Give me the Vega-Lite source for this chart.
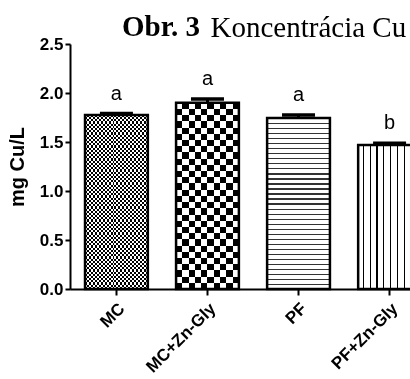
{
  "$schema": "https://vega.github.io/schema/vega-lite/v6.json",
  "width": 340,
  "height": 245,
  "autosize": {"type": "none"},
  "padding": {"left": 70, "top": 44, "right": 0, "bottom": 90},
  "background": "white",
  "config": {"view": {"stroke": null}},
  "title": {"text": "Obr. 3", "anchor": "start", "frame": "group", "dx": 52, "dy": 60, "offset": 8, "baseline": "alphabetic", "font": "Liberation Serif", "fontSize": 29, "fontWeight": "bold", "color": "black"},
  "data": {"values": [
    {"g": "MC", "v": 1.776, "u": 1.79, "l": "a"},
    {"g": "MC+Zn-Gly", "v": 1.90, "u": 1.94, "l": "a"},
    {"g": "PF", "v": 1.745, "u": 1.776, "l": "a"},
    {"g": "PF+Zn-Gly", "v": 1.469, "u": 1.487, "l": "b"}
  ]},
  "encoding": {
    "x": {"field": "g", "type": "nominal", "sort": null,
      "scale": {"type": "band", "range": [0, 366], "paddingInner": 0.31, "paddingOuter": 0.165},
      "axis": {"title": "Koncentrácia Cu", "titleX": 140, "titleY": -253, "titleAlign": "left", "titleBaseline": "alphabetic", "titleAngle": 0, "titleFont": "Liberation Serif", "titleFontSize": 29, "titleFontWeight": "normal", "titleColor": "black",
        "labelAngle": -45, "labelFont": "Liberation Sans", "labelFontSize": 17, "labelFontWeight": "bold", "labelColor": "black", "labelPadding": 5,
        "tickSize": 6, "tickWidth": 2, "tickColor": "black", "domainWidth": 2, "domainColor": "black", "grid": false}}
  },
  "layer": [
    {
      "mark": {"type": "bar", "strokeWidth": 0},
      "encoding": {
        "y": {"field": "v", "type": "quantitative",
          "scale": {"domain": [0, 2.5], "nice": false},
          "axis": {"title": "mg Cu/L", "titleFont": "Liberation Sans", "titleFontSize": 20, "titleFontWeight": "bold", "titleColor": "black", "titlePadding": 12,
            "values": [0, 0.5, 1, 1.5, 2, 2.5], "format": ".1f", "labelFont": "Liberation Sans", "labelFontSize": 17, "labelFontWeight": "bold", "labelColor": "black", "labelPadding": 2,
            "tickSize": 5, "tickWidth": 2, "tickColor": "black", "domainWidth": 2, "domainColor": "black", "grid": false}},
        "fill": {
          "condition": [
            {"test": "datum.g === 'MC'", "value": {"gradient": "linear", "x1": 0, "y1": 0, "x2": 1, "y2": 0, "stops": [
              {"offset": 0, "color": "#000"}, {"offset": 0.03125, "color": "#000"}, {"offset": 0.03125, "color": "#fff"}, {"offset": 0.0625, "color": "#fff"},
              {"offset": 0.0625, "color": "#000"}, {"offset": 0.09375, "color": "#000"}, {"offset": 0.09375, "color": "#fff"}, {"offset": 0.125, "color": "#fff"},
              {"offset": 0.125, "color": "#000"}, {"offset": 0.15625, "color": "#000"}, {"offset": 0.15625, "color": "#fff"}, {"offset": 0.1875, "color": "#fff"},
              {"offset": 0.1875, "color": "#000"}, {"offset": 0.21875, "color": "#000"}, {"offset": 0.21875, "color": "#fff"}, {"offset": 0.25, "color": "#fff"},
              {"offset": 0.25, "color": "#000"}, {"offset": 0.28125, "color": "#000"}, {"offset": 0.28125, "color": "#fff"}, {"offset": 0.3125, "color": "#fff"},
              {"offset": 0.3125, "color": "#000"}, {"offset": 0.34375, "color": "#000"}, {"offset": 0.34375, "color": "#fff"}, {"offset": 0.375, "color": "#fff"},
              {"offset": 0.375, "color": "#000"}, {"offset": 0.40625, "color": "#000"}, {"offset": 0.40625, "color": "#fff"}, {"offset": 0.4375, "color": "#fff"},
              {"offset": 0.4375, "color": "#000"}, {"offset": 0.46875, "color": "#000"}, {"offset": 0.46875, "color": "#fff"}, {"offset": 0.5, "color": "#fff"},
              {"offset": 0.5, "color": "#000"}, {"offset": 0.53125, "color": "#000"}, {"offset": 0.53125, "color": "#fff"}, {"offset": 0.5625, "color": "#fff"},
              {"offset": 0.5625, "color": "#000"}, {"offset": 0.59375, "color": "#000"}, {"offset": 0.59375, "color": "#fff"}, {"offset": 0.625, "color": "#fff"},
              {"offset": 0.625, "color": "#000"}, {"offset": 0.65625, "color": "#000"}, {"offset": 0.65625, "color": "#fff"}, {"offset": 0.6875, "color": "#fff"},
              {"offset": 0.6875, "color": "#000"}, {"offset": 0.71875, "color": "#000"}, {"offset": 0.71875, "color": "#fff"}, {"offset": 0.75, "color": "#fff"},
              {"offset": 0.75, "color": "#000"}, {"offset": 0.78125, "color": "#000"}, {"offset": 0.78125, "color": "#fff"}, {"offset": 0.8125, "color": "#fff"},
              {"offset": 0.8125, "color": "#000"}, {"offset": 0.84375, "color": "#000"}, {"offset": 0.84375, "color": "#fff"}, {"offset": 0.875, "color": "#fff"},
              {"offset": 0.875, "color": "#000"}, {"offset": 0.90625, "color": "#000"}, {"offset": 0.90625, "color": "#fff"}, {"offset": 0.9375, "color": "#fff"},
              {"offset": 0.9375, "color": "#000"}, {"offset": 0.96875, "color": "#000"}, {"offset": 0.96875, "color": "#fff"}, {"offset": 1, "color": "#fff"}
            ]}},
            {"test": "datum.g === 'MC+Zn-Gly'", "value": {"gradient": "linear", "x1": 0, "y1": 0, "x2": 1, "y2": 0, "stops": [
              {"offset": 0, "color": "#000"}, {"offset": 0.1, "color": "#000"}, {"offset": 0.1, "color": "#fff"}, {"offset": 0.2, "color": "#fff"},
              {"offset": 0.2, "color": "#000"}, {"offset": 0.3, "color": "#000"}, {"offset": 0.3, "color": "#fff"}, {"offset": 0.4, "color": "#fff"},
              {"offset": 0.4, "color": "#000"}, {"offset": 0.5, "color": "#000"}, {"offset": 0.5, "color": "#fff"}, {"offset": 0.6, "color": "#fff"},
              {"offset": 0.6, "color": "#000"}, {"offset": 0.7, "color": "#000"}, {"offset": 0.7, "color": "#fff"}, {"offset": 0.8, "color": "#fff"},
              {"offset": 0.8, "color": "#000"}, {"offset": 0.9, "color": "#000"}, {"offset": 0.9, "color": "#fff"}, {"offset": 1, "color": "#fff"}
            ]}},
            {"test": "datum.g === 'PF'", "value": {"gradient": "linear", "x1": 0, "y1": 0, "x2": 0, "y2": 1, "stops": [
              {"offset": 0, "color": "#fff"},
              {"offset": 0.0294, "color": "#fff"}, {"offset": 0.0294, "color": "#333"}, {"offset": 0.0364, "color": "#333"}, {"offset": 0.0364, "color": "#fff"},
              {"offset": 0.0588, "color": "#fff"}, {"offset": 0.0588, "color": "#333"}, {"offset": 0.0658, "color": "#333"}, {"offset": 0.0658, "color": "#fff"},
              {"offset": 0.0882, "color": "#fff"}, {"offset": 0.0882, "color": "#333"}, {"offset": 0.0952, "color": "#333"}, {"offset": 0.0952, "color": "#fff"},
              {"offset": 0.1176, "color": "#fff"}, {"offset": 0.1176, "color": "#333"}, {"offset": 0.1246, "color": "#333"}, {"offset": 0.1246, "color": "#fff"},
              {"offset": 0.1471, "color": "#fff"}, {"offset": 0.1471, "color": "#333"}, {"offset": 0.1541, "color": "#333"}, {"offset": 0.1541, "color": "#fff"},
              {"offset": 0.1765, "color": "#fff"}, {"offset": 0.1765, "color": "#333"}, {"offset": 0.1835, "color": "#333"}, {"offset": 0.1835, "color": "#fff"},
              {"offset": 0.2059, "color": "#fff"}, {"offset": 0.2059, "color": "#333"}, {"offset": 0.2129, "color": "#333"}, {"offset": 0.2129, "color": "#fff"},
              {"offset": 0.2353, "color": "#fff"}, {"offset": 0.2353, "color": "#333"}, {"offset": 0.2423, "color": "#333"}, {"offset": 0.2423, "color": "#fff"},
              {"offset": 0.2647, "color": "#fff"}, {"offset": 0.2647, "color": "#333"}, {"offset": 0.2717, "color": "#333"}, {"offset": 0.2717, "color": "#fff"},
              {"offset": 0.2941, "color": "#fff"}, {"offset": 0.2941, "color": "#333"}, {"offset": 0.3011, "color": "#333"}, {"offset": 0.3011, "color": "#fff"},
              {"offset": 0.3235, "color": "#fff"}, {"offset": 0.3235, "color": "#333"}, {"offset": 0.3305, "color": "#333"}, {"offset": 0.3305, "color": "#fff"},
              {"offset": 0.3529, "color": "#fff"}, {"offset": 0.3529, "color": "#333"}, {"offset": 0.3599, "color": "#333"}, {"offset": 0.3599, "color": "#fff"},
              {"offset": 0.3824, "color": "#fff"}, {"offset": 0.3824, "color": "#333"}, {"offset": 0.3894, "color": "#333"}, {"offset": 0.3894, "color": "#fff"},
              {"offset": 0.4118, "color": "#fff"}, {"offset": 0.4118, "color": "#333"}, {"offset": 0.4188, "color": "#333"}, {"offset": 0.4188, "color": "#fff"},
              {"offset": 0.4412, "color": "#fff"}, {"offset": 0.4412, "color": "#333"}, {"offset": 0.4482, "color": "#333"}, {"offset": 0.4482, "color": "#fff"},
              {"offset": 0.4706, "color": "#fff"}, {"offset": 0.4706, "color": "#333"}, {"offset": 0.4776, "color": "#333"}, {"offset": 0.4776, "color": "#fff"},
              {"offset": 0.5, "color": "#fff"}, {"offset": 0.5, "color": "#333"}, {"offset": 0.507, "color": "#333"}, {"offset": 0.507, "color": "#fff"},
              {"offset": 0.5294, "color": "#fff"}, {"offset": 0.5294, "color": "#333"}, {"offset": 0.5364, "color": "#333"}, {"offset": 0.5364, "color": "#fff"},
              {"offset": 0.5588, "color": "#fff"}, {"offset": 0.5588, "color": "#333"}, {"offset": 0.5658, "color": "#333"}, {"offset": 0.5658, "color": "#fff"},
              {"offset": 0.5882, "color": "#fff"}, {"offset": 0.5882, "color": "#333"}, {"offset": 0.5952, "color": "#333"}, {"offset": 0.5952, "color": "#fff"},
              {"offset": 0.6176, "color": "#fff"}, {"offset": 0.6176, "color": "#333"}, {"offset": 0.6246, "color": "#333"}, {"offset": 0.6246, "color": "#fff"},
              {"offset": 0.6471, "color": "#fff"}, {"offset": 0.6471, "color": "#333"}, {"offset": 0.6541, "color": "#333"}, {"offset": 0.6541, "color": "#fff"},
              {"offset": 0.6765, "color": "#fff"}, {"offset": 0.6765, "color": "#333"}, {"offset": 0.6835, "color": "#333"}, {"offset": 0.6835, "color": "#fff"},
              {"offset": 0.7059, "color": "#fff"}, {"offset": 0.7059, "color": "#333"}, {"offset": 0.7129, "color": "#333"}, {"offset": 0.7129, "color": "#fff"},
              {"offset": 0.7353, "color": "#fff"}, {"offset": 0.7353, "color": "#333"}, {"offset": 0.7423, "color": "#333"}, {"offset": 0.7423, "color": "#fff"},
              {"offset": 0.7647, "color": "#fff"}, {"offset": 0.7647, "color": "#333"}, {"offset": 0.7717, "color": "#333"}, {"offset": 0.7717, "color": "#fff"},
              {"offset": 0.7941, "color": "#fff"}, {"offset": 0.7941, "color": "#333"}, {"offset": 0.8011, "color": "#333"}, {"offset": 0.8011, "color": "#fff"},
              {"offset": 0.8235, "color": "#fff"}, {"offset": 0.8235, "color": "#333"}, {"offset": 0.8305, "color": "#333"}, {"offset": 0.8305, "color": "#fff"},
              {"offset": 0.8529, "color": "#fff"}, {"offset": 0.8529, "color": "#333"}, {"offset": 0.8599, "color": "#333"}, {"offset": 0.8599, "color": "#fff"},
              {"offset": 0.8824, "color": "#fff"}, {"offset": 0.8824, "color": "#333"}, {"offset": 0.8894, "color": "#333"}, {"offset": 0.8894, "color": "#fff"},
              {"offset": 0.9118, "color": "#fff"}, {"offset": 0.9118, "color": "#333"}, {"offset": 0.9188, "color": "#333"}, {"offset": 0.9188, "color": "#fff"},
              {"offset": 0.9412, "color": "#fff"}, {"offset": 0.9412, "color": "#333"}, {"offset": 0.9482, "color": "#333"}, {"offset": 0.9482, "color": "#fff"},
              {"offset": 0.9706, "color": "#fff"}, {"offset": 0.9706, "color": "#333"}, {"offset": 0.9776, "color": "#333"}, {"offset": 0.9776, "color": "#fff"},
              {"offset": 1, "color": "#fff"}
            ]}}
          ],
          "value": {"gradient": "linear", "x1": 0, "y1": 0, "x2": 1, "y2": 0, "stops": [
            {"offset": 0, "color": "#fff"},
            {"offset": 0.075, "color": "#fff"}, {"offset": 0.075, "color": "#000"}, {"offset": 0.095, "color": "#000"}, {"offset": 0.095, "color": "#fff"},
            {"offset": 0.183, "color": "#fff"}, {"offset": 0.183, "color": "#000"}, {"offset": 0.203, "color": "#000"}, {"offset": 0.203, "color": "#fff"},
            {"offset": 0.291, "color": "#fff"}, {"offset": 0.291, "color": "#000"}, {"offset": 0.311, "color": "#000"}, {"offset": 0.311, "color": "#fff"},
            {"offset": 0.399, "color": "#fff"}, {"offset": 0.399, "color": "#000"}, {"offset": 0.419, "color": "#000"}, {"offset": 0.419, "color": "#fff"},
            {"offset": 0.507, "color": "#fff"}, {"offset": 0.507, "color": "#000"}, {"offset": 0.527, "color": "#000"}, {"offset": 0.527, "color": "#fff"},
            {"offset": 0.615, "color": "#fff"}, {"offset": 0.615, "color": "#000"}, {"offset": 0.635, "color": "#000"}, {"offset": 0.635, "color": "#fff"},
            {"offset": 0.723, "color": "#fff"}, {"offset": 0.723, "color": "#000"}, {"offset": 0.743, "color": "#000"}, {"offset": 0.743, "color": "#fff"},
            {"offset": 0.831, "color": "#fff"}, {"offset": 0.831, "color": "#000"}, {"offset": 0.851, "color": "#000"}, {"offset": 0.851, "color": "#fff"},
            {"offset": 0.939, "color": "#fff"}, {"offset": 0.939, "color": "#000"}, {"offset": 0.959, "color": "#000"}, {"offset": 0.959, "color": "#fff"},
            {"offset": 1, "color": "#fff"}
          ]}
        }
      }
    },
    {
      "transform": [{"filter": "datum.g === 'MC' || datum.g === 'MC+Zn-Gly'"}],
      "mark": {"type": "bar", "strokeWidth": 0, "blend": "difference"},
      "encoding": {
        "y": {"field": "v", "type": "quantitative"},
        "fill": {
          "condition": [
            {"test": "datum.g === 'MC'", "value": {"gradient": "linear", "x1": 0, "y1": 0, "x2": 0, "y2": 1, "stops": [
              {"offset": 0, "color": "#fff"},
              {"offset": 0.0125, "color": "#fff"}, {"offset": 0.0125, "color": "#000"}, {"offset": 0.025, "color": "#000"}, {"offset": 0.025, "color": "#fff"},
              {"offset": 0.0375, "color": "#fff"}, {"offset": 0.0375, "color": "#000"}, {"offset": 0.05, "color": "#000"}, {"offset": 0.05, "color": "#fff"},
              {"offset": 0.0625, "color": "#fff"}, {"offset": 0.0625, "color": "#000"}, {"offset": 0.075, "color": "#000"}, {"offset": 0.075, "color": "#fff"},
              {"offset": 0.0875, "color": "#fff"}, {"offset": 0.0875, "color": "#000"}, {"offset": 0.1, "color": "#000"}, {"offset": 0.1, "color": "#fff"},
              {"offset": 0.1125, "color": "#fff"}, {"offset": 0.1125, "color": "#000"}, {"offset": 0.125, "color": "#000"}, {"offset": 0.125, "color": "#fff"},
              {"offset": 0.1375, "color": "#fff"}, {"offset": 0.1375, "color": "#000"}, {"offset": 0.15, "color": "#000"}, {"offset": 0.15, "color": "#fff"},
              {"offset": 0.1625, "color": "#fff"}, {"offset": 0.1625, "color": "#000"}, {"offset": 0.175, "color": "#000"}, {"offset": 0.175, "color": "#fff"},
              {"offset": 0.1875, "color": "#fff"}, {"offset": 0.1875, "color": "#000"}, {"offset": 0.2, "color": "#000"}, {"offset": 0.2, "color": "#fff"},
              {"offset": 0.2125, "color": "#fff"}, {"offset": 0.2125, "color": "#000"}, {"offset": 0.225, "color": "#000"}, {"offset": 0.225, "color": "#fff"},
              {"offset": 0.2375, "color": "#fff"}, {"offset": 0.2375, "color": "#000"}, {"offset": 0.25, "color": "#000"}, {"offset": 0.25, "color": "#fff"},
              {"offset": 0.2625, "color": "#fff"}, {"offset": 0.2625, "color": "#000"}, {"offset": 0.275, "color": "#000"}, {"offset": 0.275, "color": "#fff"},
              {"offset": 0.2875, "color": "#fff"}, {"offset": 0.2875, "color": "#000"}, {"offset": 0.3, "color": "#000"}, {"offset": 0.3, "color": "#fff"},
              {"offset": 0.3125, "color": "#fff"}, {"offset": 0.3125, "color": "#000"}, {"offset": 0.325, "color": "#000"}, {"offset": 0.325, "color": "#fff"},
              {"offset": 0.3375, "color": "#fff"}, {"offset": 0.3375, "color": "#000"}, {"offset": 0.35, "color": "#000"}, {"offset": 0.35, "color": "#fff"},
              {"offset": 0.3625, "color": "#fff"}, {"offset": 0.3625, "color": "#000"}, {"offset": 0.375, "color": "#000"}, {"offset": 0.375, "color": "#fff"},
              {"offset": 0.3875, "color": "#fff"}, {"offset": 0.3875, "color": "#000"}, {"offset": 0.4, "color": "#000"}, {"offset": 0.4, "color": "#fff"},
              {"offset": 0.4125, "color": "#fff"}, {"offset": 0.4125, "color": "#000"}, {"offset": 0.425, "color": "#000"}, {"offset": 0.425, "color": "#fff"},
              {"offset": 0.4375, "color": "#fff"}, {"offset": 0.4375, "color": "#000"}, {"offset": 0.45, "color": "#000"}, {"offset": 0.45, "color": "#fff"},
              {"offset": 0.4625, "color": "#fff"}, {"offset": 0.4625, "color": "#000"}, {"offset": 0.475, "color": "#000"}, {"offset": 0.475, "color": "#fff"},
              {"offset": 0.4875, "color": "#fff"}, {"offset": 0.4875, "color": "#000"}, {"offset": 0.5, "color": "#000"}, {"offset": 0.5, "color": "#fff"},
              {"offset": 0.5125, "color": "#fff"}, {"offset": 0.5125, "color": "#000"}, {"offset": 0.525, "color": "#000"}, {"offset": 0.525, "color": "#fff"},
              {"offset": 0.5375, "color": "#fff"}, {"offset": 0.5375, "color": "#000"}, {"offset": 0.55, "color": "#000"}, {"offset": 0.55, "color": "#fff"},
              {"offset": 0.5625, "color": "#fff"}, {"offset": 0.5625, "color": "#000"}, {"offset": 0.575, "color": "#000"}, {"offset": 0.575, "color": "#fff"},
              {"offset": 0.5875, "color": "#fff"}, {"offset": 0.5875, "color": "#000"}, {"offset": 0.6, "color": "#000"}, {"offset": 0.6, "color": "#fff"},
              {"offset": 0.6125, "color": "#fff"}, {"offset": 0.6125, "color": "#000"}, {"offset": 0.625, "color": "#000"}, {"offset": 0.625, "color": "#fff"},
              {"offset": 0.6375, "color": "#fff"}, {"offset": 0.6375, "color": "#000"}, {"offset": 0.65, "color": "#000"}, {"offset": 0.65, "color": "#fff"},
              {"offset": 0.6625, "color": "#fff"}, {"offset": 0.6625, "color": "#000"}, {"offset": 0.675, "color": "#000"}, {"offset": 0.675, "color": "#fff"},
              {"offset": 0.6875, "color": "#fff"}, {"offset": 0.6875, "color": "#000"}, {"offset": 0.7, "color": "#000"}, {"offset": 0.7, "color": "#fff"},
              {"offset": 0.7125, "color": "#fff"}, {"offset": 0.7125, "color": "#000"}, {"offset": 0.725, "color": "#000"}, {"offset": 0.725, "color": "#fff"},
              {"offset": 0.7375, "color": "#fff"}, {"offset": 0.7375, "color": "#000"}, {"offset": 0.75, "color": "#000"}, {"offset": 0.75, "color": "#fff"},
              {"offset": 0.7625, "color": "#fff"}, {"offset": 0.7625, "color": "#000"}, {"offset": 0.775, "color": "#000"}, {"offset": 0.775, "color": "#fff"},
              {"offset": 0.7875, "color": "#fff"}, {"offset": 0.7875, "color": "#000"}, {"offset": 0.8, "color": "#000"}, {"offset": 0.8, "color": "#fff"},
              {"offset": 0.8125, "color": "#fff"}, {"offset": 0.8125, "color": "#000"}, {"offset": 0.825, "color": "#000"}, {"offset": 0.825, "color": "#fff"},
              {"offset": 0.8375, "color": "#fff"}, {"offset": 0.8375, "color": "#000"}, {"offset": 0.85, "color": "#000"}, {"offset": 0.85, "color": "#fff"},
              {"offset": 0.8625, "color": "#fff"}, {"offset": 0.8625, "color": "#000"}, {"offset": 0.875, "color": "#000"}, {"offset": 0.875, "color": "#fff"},
              {"offset": 0.8875, "color": "#fff"}, {"offset": 0.8875, "color": "#000"}, {"offset": 0.9, "color": "#000"}, {"offset": 0.9, "color": "#fff"},
              {"offset": 0.9125, "color": "#fff"}, {"offset": 0.9125, "color": "#000"}, {"offset": 0.925, "color": "#000"}, {"offset": 0.925, "color": "#fff"},
              {"offset": 0.9375, "color": "#fff"}, {"offset": 0.9375, "color": "#000"}, {"offset": 0.95, "color": "#000"}, {"offset": 0.95, "color": "#fff"},
              {"offset": 0.9625, "color": "#fff"}, {"offset": 0.9625, "color": "#000"}, {"offset": 0.975, "color": "#000"}, {"offset": 0.975, "color": "#fff"},
              {"offset": 0.9875, "color": "#fff"}, {"offset": 0.9875, "color": "#000"}, {"offset": 1, "color": "#000"}
            ]}}
          ],
          "value": {"gradient": "linear", "x1": 0, "y1": 0, "x2": 0, "y2": 1, "stops": [
            {"offset": 0, "color": "#fff"},
            {"offset": 0.0333, "color": "#fff"}, {"offset": 0.0333, "color": "#000"}, {"offset": 0.0667, "color": "#000"}, {"offset": 0.0667, "color": "#fff"},
            {"offset": 0.1, "color": "#fff"}, {"offset": 0.1, "color": "#000"}, {"offset": 0.1333, "color": "#000"}, {"offset": 0.1333, "color": "#fff"},
            {"offset": 0.1667, "color": "#fff"}, {"offset": 0.1667, "color": "#000"}, {"offset": 0.2, "color": "#000"}, {"offset": 0.2, "color": "#fff"},
            {"offset": 0.2333, "color": "#fff"}, {"offset": 0.2333, "color": "#000"}, {"offset": 0.2667, "color": "#000"}, {"offset": 0.2667, "color": "#fff"},
            {"offset": 0.3, "color": "#fff"}, {"offset": 0.3, "color": "#000"}, {"offset": 0.3333, "color": "#000"}, {"offset": 0.3333, "color": "#fff"},
            {"offset": 0.3667, "color": "#fff"}, {"offset": 0.3667, "color": "#000"}, {"offset": 0.4, "color": "#000"}, {"offset": 0.4, "color": "#fff"},
            {"offset": 0.4333, "color": "#fff"}, {"offset": 0.4333, "color": "#000"}, {"offset": 0.4667, "color": "#000"}, {"offset": 0.4667, "color": "#fff"},
            {"offset": 0.5, "color": "#fff"}, {"offset": 0.5, "color": "#000"}, {"offset": 0.5333, "color": "#000"}, {"offset": 0.5333, "color": "#fff"},
            {"offset": 0.5667, "color": "#fff"}, {"offset": 0.5667, "color": "#000"}, {"offset": 0.6, "color": "#000"}, {"offset": 0.6, "color": "#fff"},
            {"offset": 0.6333, "color": "#fff"}, {"offset": 0.6333, "color": "#000"}, {"offset": 0.6667, "color": "#000"}, {"offset": 0.6667, "color": "#fff"},
            {"offset": 0.7, "color": "#fff"}, {"offset": 0.7, "color": "#000"}, {"offset": 0.7333, "color": "#000"}, {"offset": 0.7333, "color": "#fff"},
            {"offset": 0.7667, "color": "#fff"}, {"offset": 0.7667, "color": "#000"}, {"offset": 0.8, "color": "#000"}, {"offset": 0.8, "color": "#fff"},
            {"offset": 0.8333, "color": "#fff"}, {"offset": 0.8333, "color": "#000"}, {"offset": 0.8667, "color": "#000"}, {"offset": 0.8667, "color": "#fff"},
            {"offset": 0.9, "color": "#fff"}, {"offset": 0.9, "color": "#000"}, {"offset": 0.9333, "color": "#000"}, {"offset": 0.9333, "color": "#fff"},
            {"offset": 0.9667, "color": "#fff"}, {"offset": 0.9667, "color": "#000"}, {"offset": 1, "color": "#000"}
          ]}
        }
      }
    },
    {
      "mark": {"type": "bar", "fill": "white", "fillOpacity": 0, "stroke": "black", "strokeWidth": 2.5},
      "encoding": {"y": {"field": "v", "type": "quantitative"}}
    },
    {
      "mark": {"type": "rule", "color": "black", "strokeWidth": 3},
      "encoding": {"y": {"field": "v", "type": "quantitative"}, "y2": {"field": "u"}}
    },
    {
      "mark": {"type": "tick", "color": "black", "opacity": 1, "size": 33, "thickness": 3.5, "orient": "horizontal"},
      "encoding": {"y": {"field": "u", "type": "quantitative"}}
    },
    {
      "mark": {"type": "text", "font": "Liberation Sans", "fontSize": 20, "color": "black", "baseline": "alphabetic", "dy": -14},
      "encoding": {"y": {"field": "u", "type": "quantitative"}, "text": {"field": "l"}}
    }
  ]
}
